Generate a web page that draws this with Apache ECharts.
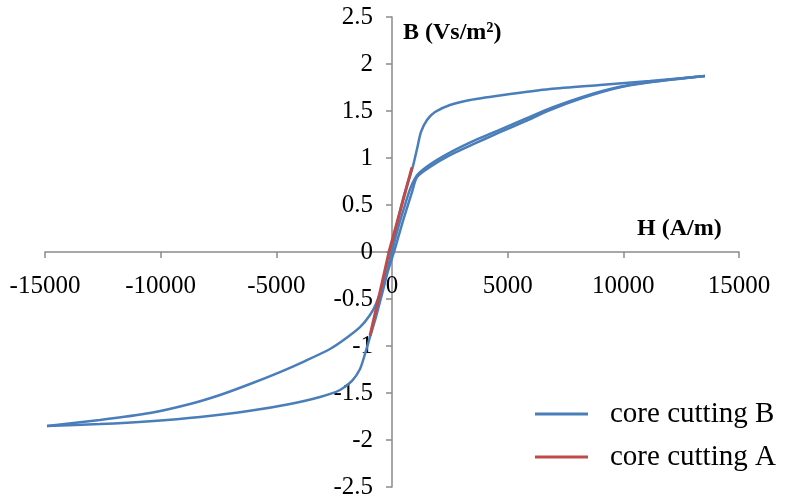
<!DOCTYPE html>
<html>
<head>
<meta charset="utf-8">
<script src="https://cdn.jsdelivr.net/npm/echarts@6/dist/echarts.min.js"></script>
<style>
html,body{margin:0;padding:0;background:#fff;}
#chart{width:794px;height:501px;}
</style>
</head>
<body>
<div id="chart"></div>
<script>
// Axis ticks
var xTicks = [-15000, -10000, -5000, 0, 5000, 10000, 15000];
var yTicks = [-2.5, -2, -1.5, -1, -0.5, 0, 0.5, 1, 1.5, 2, 2.5];

// core cutting B : descending branch (from positive tip to negative tip)
var descH = [13530, 11153, 8992, 6830, 4669, 3372, 2507, 1859, 1513, 1254, 1081, 908, 692, 476, 216, 0, -173, -389, -692, -951, -1383, -2032, -2680, -3761, -4842, -6138, -7435, -8732, -10461, -12623, -14914];
var descB = [1.872, 1.819, 1.777, 1.734, 1.665, 1.617, 1.564, 1.489, 1.404, 1.277, 1.096, 0.915, 0.745, 0.564, 0.298, 0.03, -0.16, -0.34, -0.553, -0.67, -0.80, -0.926, -1.032, -1.16, -1.277, -1.404, -1.521, -1.617, -1.713, -1.787, -1.851];

// core cutting B : ascending branch (from negative tip to positive tip)
var ascH = [-14914, -12623, -10461, -8300, -6138, -4409, -3112, -2248, -1729, -1383, -1167, -951, -692, -432, -173, 86, 346, 605, 865, 1081, 1643, 2507, 3588, 4669, 5750, 6830, 8257, 9727, 11153, 13530];
var ascB = [-1.851, -1.83, -1.80, -1.755, -1.69, -1.617, -1.543, -1.468, -1.372, -1.245, -1.085, -0.904, -0.691, -0.447, -0.202, 0, 0.223, 0.436, 0.638, 0.798, 0.905, 1.03, 1.155, 1.275, 1.39, 1.51, 1.64, 1.745, 1.805, 1.872];

// core cutting B : initial magnetisation curve
var virgH = [0, 200, 500, 800, 1100, 1700, 2600, 3600, 4700, 5800, 6900, 8300, 9750, 11150, 13530];
var virgB = [0, 0.2, 0.45, 0.68, 0.82, 0.94, 1.07, 1.19, 1.305, 1.42, 1.535, 1.655, 1.752, 1.808, 1.872];

// core cutting A
var redH = [-950, -540, -130, 370, 865];
var redB = [-0.89, -0.45, 0, 0.45, 0.90];

function pairs(h, b){ var out=[]; for(var i=0;i<h.length;i++){ out.push([h[i], b[i]]); } return out; }

var FONT = "'Liberation Serif','Times New Roman',serif";
var blue = '#4a7ebb', red = '#be4b48';
var W = 794, H = 501;
var G = {left:45, right:55, top:17, bottom:14};
var gw = W - G.left - G.right, gh = H - G.top - G.bottom;
// place each axis through the other's zero
var xOff = -gh * (0 - yTicks[0]) / (yTicks[yTicks.length-1] - yTicks[0]);
var yOff = -gw * (0 - xTicks[0]) / (xTicks[xTicks.length-1] - xTicks[0]);

var chart = echarts.init(document.getElementById('chart'));
var lineB = {type:'line', name:'core cutting B', showSymbol:false, symbol:'none', smooth:0.25,
  lineStyle:{color:blue, width:2.5}, itemStyle:{color:blue}, z:2};
chart.setOption({
  animation:false,
  backgroundColor:'#ffffff',
  grid:{left:G.left, right:G.right, top:G.top, bottom:G.bottom, containLabel:false, outerBoundsMode:'none'},
  legend:{
    orient:'vertical', left:535, top:399, padding:0, itemWidth:53, itemHeight:3, itemGap:13,
    icon:'rect',
    data:['core cutting B','core cutting A'],
    textStyle:{fontFamily:FONT, fontSize:29, color:'#000', lineHeight:30, padding:[0,0,0,17]}
  },
  xAxis:{
    type:'value', min:xTicks[0], max:xTicks[xTicks.length-1], interval:5000,
    position:'bottom', offset:xOff,
    axisLine:{onZero:false, lineStyle:{color:'#8a8a8a', width:1.5}},
    axisTick:{show:true, length:6, lineStyle:{color:'#8a8a8a', width:1.5}},
    axisLabel:{margin:22, fontFamily:FONT, fontSize:25, color:'#000', formatter:function(v){return String(v);}},
    splitLine:{show:false}
  },
  yAxis:{
    type:'value', min:yTicks[0], max:yTicks[yTicks.length-1], interval:0.5,
    position:'left', offset:yOff,
    axisLine:{onZero:false, lineStyle:{color:'#8a8a8a', width:1.5}},
    axisTick:{show:true, length:6, lineStyle:{color:'#8a8a8a', width:1.5}},
    axisLabel:{margin:19, fontFamily:FONT, fontSize:25, color:'#000', formatter:function(v){return String(v);}},
    splitLine:{show:false}
  },
  graphic:[
    {type:'text', left:403, top:21, style:{text:'B (Vs/m²)', font:'bold 24px '+FONT, fill:'#000'}},
    {type:'text', left:637, top:217, style:{text:'H (A/m)', font:'bold 24px '+FONT, fill:'#000'}}
  ],
  series:[
    Object.assign({}, lineB, {data:pairs(virgH, virgB)}),
    Object.assign({}, lineB, {data:pairs(descH, descB)}),
    Object.assign({}, lineB, {data:pairs(ascH, ascB)}),
    {type:'line', name:'core cutting A', showSymbol:false, symbol:'none', smooth:false,
     lineStyle:{color:red, width:3}, itemStyle:{color:red}, z:3, data:pairs(redH, redB)}
  ]
});
</script>
</body>
</html>
